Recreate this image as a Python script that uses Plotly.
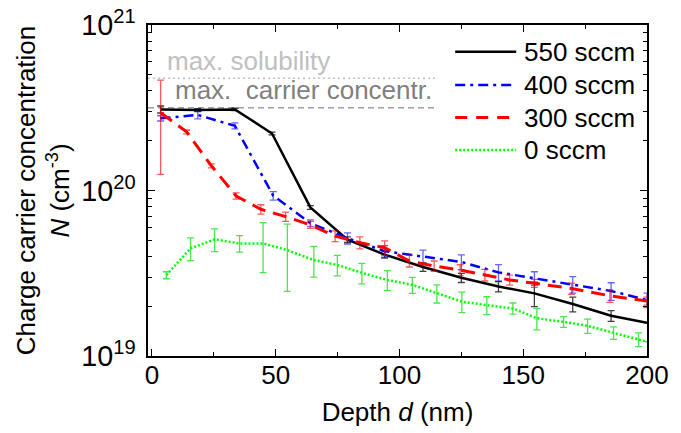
import plotly.graph_objects as go

# ---- data ----
names = ["550 sccm", "400 sccm", "300 sccm", "0 sccm"]

d550 = [3.5, 18.5, 33.5, 48.5, 64, 79, 94, 109.5, 125, 140, 154.5, 170, 185.5, 200]
n550 = [3.09e20, 3.06e20, 3.09e20, 2.21e20, 7.9e19, 5.05e19, 4.1e19, 3.45e19, 2.97e19,
        2.63e19, 2.39e19, 2.06e19, 1.75e19, 1.59e19]
e550 = [1.5e19, 0.6e19, 0.5e19, 0.4e19, 0.2e19, 0.2e19, 0.2e19, 0.2e19, 0.19e19,
        0.19e19, 0.4e19, 0.21e19, 0.13e19, 0]

d400 = [3.5, 18.5, 33.5, 49, 64, 79, 94, 109.5, 125, 140, 154.5, 170, 185.5, 200]
n400 = [2.73e20, 2.86e20, 2.46e20, 9.3e19, 6.35e19, 5.15e19, 4.3e19, 3.98e19, 3.7e19,
        3.2e19, 2.95e19, 2.71e19, 2.47e19, 2.18e19]
e400 = [1.0e19, 1.5e19, 1.0e19, 0.55e19, 0.3e19, 0.4e19, 0.35e19, 0.38e19, 0.38e19,
        0.37e19, 0.28e19, 0.31e19, 0.3e19, 0.22e19]

d300 = [3.5, 14, 24, 34, 44, 54, 64, 74, 84, 94, 104, 114, 124.5, 134.5, 144.5, 154.5,
        169.5, 185, 200]
n300 = [2.95e20, 2.26e20, 1.41e20, 9.27e19, 7.7e19, 6.95e19, 6.2e19, 5.31e19, 4.84e19,
        4.51e19, 3.75e19, 3.5e19, 3.31e19, 3.09e19, 2.88e19, 2.75e19, 2.56e19, 2.31e19,
        2.15e19]
e300 = [1.7e20, 0.6e19, 0.4e19, 0.4e19, 0.5e19, 0.45e19, 0.3e19, 0.4e19, 0.4e19,
        0.45e19, 0.3e19, 0.25e19, 0.25e19, 0.25e19, 0.2e19, 0.15e19, 0.2e19, 0.2e19,
        0.12e19]

d0 = [5.8, 15.6, 25.3, 35.4, 44.9, 54.7, 65.4, 74.9, 84.8, 95.1, 105.2, 115.1, 125.2,
      135.3, 145.8, 155.5, 166.3, 176, 186.5, 196.6, 200]
n0 = [3.08e19, 4.47e19, 5.07e19, 4.79e19, 4.79e19, 4.36e19, 3.8e19, 3.55e19, 3.18e19,
      2.88e19, 2.69e19, 2.39e19, 2.13e19, 2.03e19, 1.94e19, 1.69e19, 1.61e19, 1.52e19,
      1.38e19, 1.26e19, 1.22e19]
e0 = [0.15e19, 0.7e19, 0.8e19, 0.55e19, 1.6e19, 1.9e19, 0.8e19, 0.5e19, 0.45e19,
      0.4e19, 0.3e19, 0.3e19, 0.3e19, 0.25e19, 0.15e19, 0.25e19, 0.12e19, 0.15e19,
      0.12e19, 0.12e19, 0]

max_solubility = 4.76e20
max_carrier = 3.16e20
ref_x_end = 115

x_ticks = [0, 50, 100, 150, 200]

FONT = "Liberation Sans, Arial, sans-serif"
FS = 26

series = [
    (d550, n550, e550, "#000000", "rgba(0,0,0,0.75)", "solid", 2.5),
    (d400, n400, e400, "#0000ff", "rgba(0,0,255,0.6)", "10px,5px,3px,5px", 2.5),
    (d300, n300, e300, "#ff0000", "rgba(255,0,0,0.65)", "14px,8px", 3),
    (d0, n0, e0, "#00ff00", "rgba(0,220,0,0.7)", "2px,2px", 2.5),
]
legend_dash = ["solid", "10px,5px,3px,5px", "12px,9px", "2px,2px"]

fig = go.Figure()
for name, (xs, ys, es, col, ecol, dash, w) in zip(names, series):
    fig.add_trace(go.Scatter(
        x=xs, y=ys, mode="lines", name=name, showlegend=False,
        line=dict(color=col, width=w, dash=dash),
        error_y=dict(type="data", array=es, visible=True, color=ecol,
                     thickness=1.3, width=3.5),
    ))

# legend drawn in paper coordinates (line sample + label)
leg_x0, leg_x1, leg_tx = 0.6156, 0.7379, 0.750
leg_y = [0.9193, 0.8187, 0.7205, 0.6224]
for name, (xs, ys, es, col, ecol, dash, w), ldash, ly in zip(names, series, legend_dash, leg_y):
    fig.add_shape(type="line", xref="paper", yref="paper", x0=leg_x0, x1=leg_x1,
                  y0=ly, y1=ly, line=dict(color=col, width=w, dash=ldash))
    fig.add_annotation(x=leg_tx, y=ly, xref="paper", yref="paper", text=name,
                       showarrow=False, xanchor="left", yanchor="middle",
                       font=dict(family=FONT, size=FS, color="black"))

# reference lines
fig.add_shape(type="line", xref="x", yref="y", x0=-1.6, x1=ref_x_end,
              y0=max_solubility, y1=max_solubility,
              line=dict(color="#c4c4c4", width=1.5, dash="2px,3px"), layer="below")
fig.add_shape(type="line", xref="x", yref="y", x0=-1.6, x1=ref_x_end,
              y0=max_carrier, y1=max_carrier,
              line=dict(color="#a0a0a0", width=1.5, dash="6px,4px"), layer="below")

fig.add_annotation(x=5.3, y=20.782, xref="x", yref="y", text="max. solubility",
                   showarrow=False, xanchor="left", yanchor="middle",
                   font=dict(family=FONT, size=FS, color="#c0c0c0"))
fig.add_annotation(x=8.5, y=20.607, xref="x", yref="y",
                   text="max.\u00a0 carrier concentr.",
                   showarrow=False, xanchor="left", yanchor="middle",
                   font=dict(family=FONT, size=FS, color="#808080"))

axis_common = dict(
    showline=True, linecolor="black", linewidth=1.5, mirror="ticks",
    ticks="inside", ticklen=7, tickwidth=1.2, tickcolor="black",
    showgrid=False, zeroline=False, automargin=False,
)

fig.update_xaxes(
    **axis_common,
    tickfont=dict(family=FONT, size=FS, color="black"), ticklabelstandoff=-5,
    range=[-1.6, 200], tickvals=x_ticks, ticktext=[str(v) for v in x_ticks],
    minor=dict(ticks="inside", ticklen=4, tickwidth=1, tickcolor="black", dtick=25,
               tick0=0, showgrid=False),
    title=dict(text="Depth <i>d</i> (nm)", font=dict(family=FONT, size=FS, color="black"),
               standoff=14),
)
fig.update_yaxes(
    **axis_common,
    tickfont=dict(family=FONT, size=23, color="black"), ticklabelstandoff=6,
    type="log", range=[19, 21], dtick=1, exponentformat="power", showexponent="all",
    minor=dict(ticks="inside", ticklen=4, tickwidth=1, tickcolor="black", dtick="D1",
               showgrid=False),
    title=dict(text="Charge carrier concentration<br><i>N</i> (cm<sup>-3</sup>)",
               font=dict(family=FONT, size=FS, color="black"), standoff=4),
)

fig.update_layout(
    width=681, height=433,
    margin=dict(l=148, r=34, t=25, b=77, pad=0),
    paper_bgcolor="white", plot_bgcolor="white",
    font=dict(family=FONT, size=FS, color="black"),
    showlegend=False,
)

fig.write_html("out.html", config={"displayModeBar": False},
               post_script="document.body.style.margin='0px';document.body.style.overflow='hidden';")
